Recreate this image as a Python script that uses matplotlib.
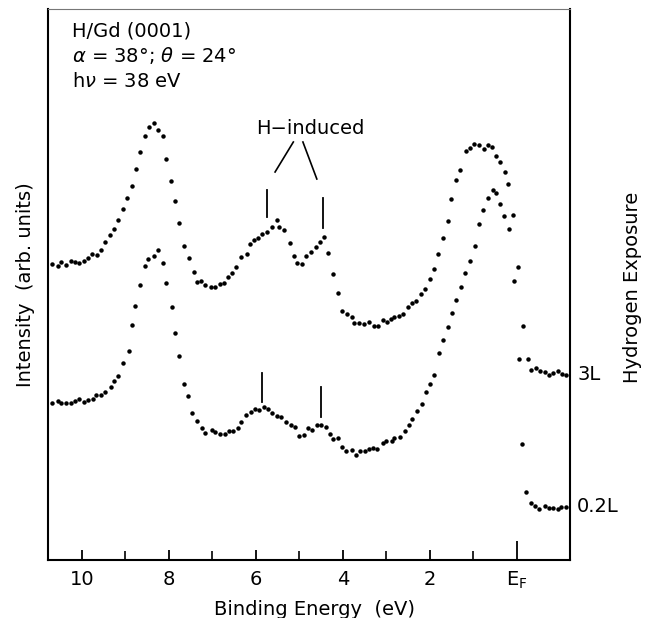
import numpy as np
import matplotlib
matplotlib.use("Agg")
import matplotlib.pyplot as plt

# binding energy (eV) and intensity (arb. units)
e_3L = [10.68, 10.56, 10.47, 10.37, 10.26, 10.16, 10.06, 9.95, 9.86, 9.76,
        9.66, 9.56, 9.47, 9.36, 9.26, 9.17, 9.06, 8.96, 8.85, 8.76,
        8.67, 8.56, 8.46, 8.35, 8.25, 8.14, 8.07, 7.96, 7.87, 7.77,
        7.66, 7.54, 7.43, 7.36, 7.26, 7.16, 7.04, 6.94, 6.83, 6.74,
        6.65, 6.54, 6.45, 6.34, 6.21, 6.14, 6.05, 5.96, 5.86, 5.75,
        5.64, 5.52, 5.46, 5.35, 5.22, 5.13, 5.05, 4.94, 4.84, 4.74,
        4.63, 4.53, 4.44, 4.34, 4.23, 4.11, 4.03, 3.91, 3.80, 3.74,
        3.62, 3.52, 3.40, 3.29, 3.20, 3.09, 2.99, 2.90, 2.82, 2.71,
        2.61, 2.50, 2.41, 2.31, 2.21, 2.11, 1.99, 1.90, 1.81, 1.71,
        1.59, 1.51, 1.41, 1.31, 1.17, 1.07, 0.98, 0.87, 0.76, 0.67,
        0.58, 0.49, 0.39, 0.28, 0.20, 0.09, -0.03, -0.14, -0.25, -0.32,
        -0.43, -0.53, -0.64, -0.74, -0.84, -0.94, -1.03, -1.13]
i_3L = [296, 294, 298, 295, 299, 298, 297, 299, 302, 306,
        305, 310, 318, 325, 331, 340, 351, 362, 374, 391,
        408, 424, 433, 437, 430, 424, 401, 379, 359, 337,
        314, 302, 288, 278, 279, 275, 273, 273, 276, 277,
        283, 287, 293, 303, 306, 316, 320, 322, 326, 328,
        333, 340, 333, 330, 317, 304, 297, 296, 304, 308,
        313, 318, 323, 307, 286, 267, 249, 246, 243, 237,
        237, 236, 238, 234, 234, 240, 238, 241, 243, 244,
        246, 253, 257, 259, 266, 271, 281, 291, 306, 322,
        339, 361, 380, 390, 409, 412, 416, 415, 411, 415,
        413, 404, 398, 388, 376, 345, 293, 234, 201, 190,
        192, 189, 188, 185, 187, 189, 186, 185]

e_02L = [10.68, 10.56, 10.47, 10.37, 10.26, 10.16, 10.06, 9.95, 9.86, 9.75,
         9.67, 9.56, 9.47, 9.33, 9.26, 9.17, 9.06, 8.92, 8.85, 8.77,
         8.67, 8.56, 8.47, 8.35, 8.25, 8.14, 8.07, 7.94, 7.86, 7.76,
         7.65, 7.56, 7.46, 7.36, 7.25, 7.16, 7.02, 6.94, 6.83, 6.72,
         6.61, 6.52, 6.41, 6.34, 6.23, 6.12, 6.02, 5.92, 5.82, 5.72,
         5.62, 5.51, 5.43, 5.32, 5.20, 5.10, 5.00, 4.90, 4.80, 4.71,
         4.60, 4.51, 4.39, 4.30, 4.22, 4.12, 4.03, 3.94, 3.80, 3.71,
         3.60, 3.49, 3.40, 3.30, 3.22, 3.09, 3.00, 2.88, 2.82, 2.69,
         2.58, 2.48, 2.41, 2.30, 2.19, 2.09, 2.00, 1.90, 1.80, 1.69,
         1.59, 1.50, 1.39, 1.29, 1.20, 1.09, 0.97, 0.87, 0.77, 0.67,
         0.54, 0.48, 0.39, 0.30, 0.18, 0.06, -0.05, -0.11, -0.20, -0.32,
         -0.41, -0.51, -0.64, -0.73, -0.83, -0.94, -1.01, -1.13]
i_02L = [157, 159, 157, 157, 157, 159, 161, 158, 160, 161,
         165, 165, 168, 173, 179, 184, 197, 209, 235, 254,
         275, 294, 301, 304, 310, 297, 277, 253, 227, 204,
         176, 164, 147, 139, 132, 127, 130, 128, 126, 126,
         129, 129, 132, 138, 145, 148, 151, 150, 153, 151,
         147, 144, 143, 138, 135, 133, 124, 125, 132, 130,
         135, 135, 133, 126, 121, 122, 113, 109, 110, 105,
         109, 109, 111, 112, 111, 117, 119, 119, 122, 123,
         129, 135, 141, 149, 156, 168, 176, 185, 207, 220,
         233, 247, 260, 273, 287, 299, 314, 336, 350, 362,
         370, 367, 356, 344, 331, 279, 201, 116, 68, 57,
         54, 51, 54, 52, 52, 51, 53, 53]

exposure_labels = ["3L", "0.2L"]
tick_pos = [10, 8, 6, 4, 2, 0]
tick_labels = ["10", "8", "6", "4", "2", r"$\mathregular{E_F}$"]
minor_pos = [9, 7, 5, 3, 1]

plt.rcParams["font.family"] = "DejaVu Sans"
plt.rcParams["mathtext.fontset"] = "dejavusans"

fig = plt.figure(figsize=(6.52, 6.18), dpi=100)
ax = fig.add_axes([48 / 652, 58 / 618, 522 / 652, 551 / 618])

ax.plot(e_3L, i_3L, "o", ms=2.2, color="black", linestyle="none")
ax.plot(e_02L, i_02L, "o", ms=2.2, color="black", linestyle="none")

ax.set_xlim(10.78, -1.22)
ax.set_ylim(0, 551)

ax.set_xticks(tick_pos)
ax.set_xticklabels(tick_labels)
ax.set_xticks(minor_pos, minor=True)
ax.set_yticks([])
ax.tick_params(axis="x", which="major", direction="in", length=7, width=1.3,
               labelsize=14, pad=7, top=False)
ax.tick_params(axis="x", which="minor", direction="in", length=6.5, width=1.2,
               top=False)
# the Fermi level tick is drawn longer
ax.xaxis.get_major_ticks()[-1].tick1line.set_markersize(14)

for side in ["left", "bottom", "right"]:
    ax.spines[side].set_linewidth(1.5)
ax.spines["top"].set_linewidth(0.8)
ax.spines["top"].set_color("#777777")

ax.set_xlabel("Binding Energy  (eV)", fontsize=14)
ax.xaxis.set_label_coords(0.511, -0.072)
ax.set_ylabel("Intensity  (arb. units)", fontsize=14)
ax.yaxis.set_label_coords(-0.024, 0.5)

# sample / geometry info
ax.text(0.046, 0.960, "H/Gd (0001)", transform=ax.transAxes, fontsize=14,
        ha="left", va="center")
ax.text(0.046, 0.916, r"$\alpha$ = 38°; $\theta$ = 24°",
        transform=ax.transAxes, fontsize=14, ha="left", va="center")
ax.text(0.046, 0.869, r"h$\nu$ = 38 eV", transform=ax.transAxes, fontsize=14,
        ha="left", va="center")

# H-induced features
ax.text(4.75, 431, "H\u2212induced", fontsize=14, ha="center", va="center")
ax.plot([5.56, 5.14], [388, 418], color="black", lw=1.2)
ax.plot([4.92, 4.60], [418, 381], color="black", lw=1.2)
ax.plot([5.75, 5.75], [343, 370], color="black", lw=1.3)
ax.plot([4.45, 4.45], [332, 362], color="black", lw=1.3)
ax.plot([5.86, 5.86], [158, 187], color="black", lw=1.3)
ax.plot([4.51, 4.51], [143, 173], color="black", lw=1.3)

# exposure labels at the right end of each curve
ax.text(1.015, i_3L[-1], exposure_labels[0], fontsize=14, ha="left", va="center",
        transform=ax.get_yaxis_transform(), clip_on=False)
ax.text(1.012, i_02L[-1], exposure_labels[1], fontsize=14, ha="left", va="center",
        transform=ax.get_yaxis_transform(), clip_on=False)
ax.text(1.119, 0.495, "Hydrogen Exposure", fontsize=14, rotation=90,
        ha="center", va="center", transform=ax.transAxes)

fig.savefig("out.png", dpi=100)
